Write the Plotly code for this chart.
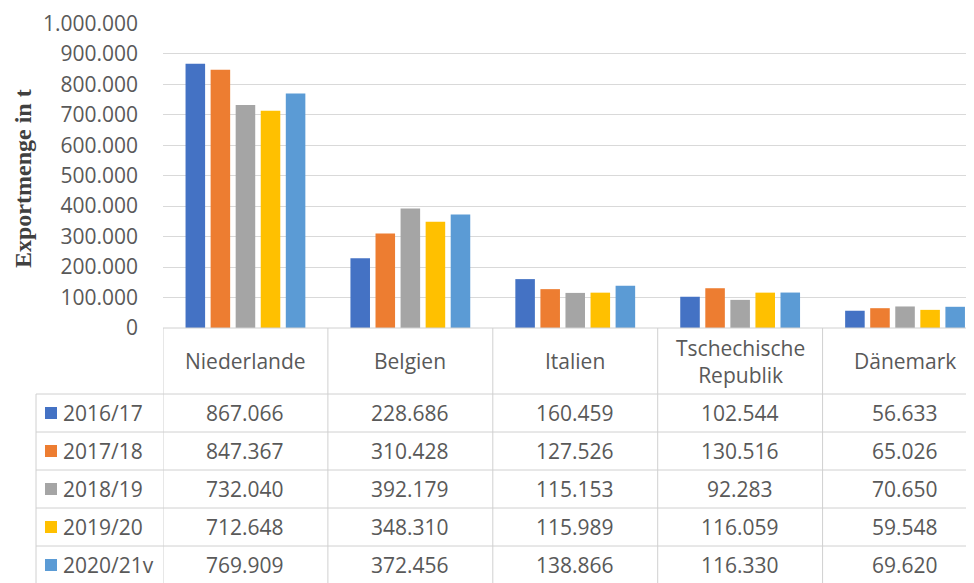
import plotly.graph_objects as go

countries = ["Niederlande", "Belgien", "Italien", "Tschechische Republik", "Dänemark"]
header_labels = ["Niederlande", "Belgien", "Italien", "Tschechische<br>Republik", "Dänemark"]
years = ["2016/17", "2017/18", "2018/19", "2019/20", "2020/21v"]
v_2016_17 = [867066, 228686, 160459, 102544, 56633]
v_2017_18 = [847367, 310428, 127526, 130516, 65026]
v_2018_19 = [732040, 392179, 115153, 92283, 70650]
v_2019_20 = [712648, 348310, 115989, 116059, 59548]
v_2020_21v = [769909, 372456, 138866, 116330, 69620]
series = [v_2016_17, v_2017_18, v_2018_19, v_2019_20, v_2020_21v]
colors = ["#4472C4", "#ED7D31", "#A5A5A5", "#FFC000", "#5B9BD5"]
y_ticks = list(range(0, 1000001, 100000))

# page has an 8px body margin; work in screen pixels and convert
OFF = 8
W, H = 974 - OFF, 583 - OFF
def px(x):
    return (x - OFF) / W
def py(y):
    return 1 - (y - OFF) / H

plot_left, plot_top, plot_bottom = 163, 23.3, 328
first_center, step = 245, 165

fig = go.Figure()
for name, vals, c in zip(years, series, colors):
    fig.add_trace(go.Bar(x=countries, y=vals, name=name, marker=dict(color=c, line=dict(width=0))))

TXT = "#595959"
FONT = "Open Sans"
GRID = "#d9d9d9"
FS = 21

fig.update_layout(
    width=W, height=H,
    margin=dict(l=0, r=0, t=0, b=0),
    paper_bgcolor="white", plot_bgcolor="white",
    barmode="group", bargap=0.24, bargroupgap=0.22,
    showlegend=False,
    separators=",.",
    font=dict(family=FONT, color=TXT),
    xaxis=dict(domain=[px(plot_left), 1], range=[-0.5, (974 - first_center) / step],
               showticklabels=False, showgrid=False, zeroline=False, showline=False,
               automargin=False, type="category"),
    yaxis=dict(domain=[py(plot_bottom), py(plot_top)], range=[0, 1000000],
               tickvals=y_ticks, tickformat=",d", showgrid=True, gridcolor=GRID, gridwidth=1,
               zeroline=False, showline=False, ticks="", ticklabelstandoff=24,
               tickfont=dict(family=FONT, size=FS, color="#595959"), automargin=False),
)

shapes = []
annotations = []
LINE = dict(color="#d0d0d0", width=1)
shapes.append(dict(type="line", xref="paper", yref="paper", x0=px(plot_left), x1=1,
                   y0=py(plot_bottom), y1=py(plot_bottom), line=LINE))
row_lines = [394, 432, 470, 508, 546]
for yl in row_lines:
    shapes.append(dict(type="line", xref="paper", yref="paper", x0=px(36), x1=1,
                       y0=py(yl), y1=py(yl), line=LINE))
shapes.append(dict(type="line", xref="paper", yref="paper", x0=px(36), x1=px(36),
                   y0=py(394), y1=0, line=LINE))
for i in range(len(countries) + 1):
    shapes.append(dict(type="line", xref="x", yref="paper", x0=i - 0.5, x1=i - 0.5,
                       y0=py(plot_bottom), y1=0, line=LINE))

for i, lab in enumerate(header_labels):
    annotations.append(dict(xref="x", yref="paper", x=i, y=py(361), text=lab, showarrow=False,
                            font=dict(family=FONT, size=FS, color=TXT), xanchor="center", yanchor="middle"))
for r, (name, vals, c) in enumerate(zip(years, series, colors)):
    yc = 413 + 38 * r
    shapes.append(dict(type="rect", xref="paper", yref="paper", x0=px(45), x1=px(57),
                       y0=py(yc + 6), y1=py(yc - 6), fillcolor=c, line=dict(width=0)))
    annotations.append(dict(xref="paper", yref="paper", x=px(61), y=py(yc), text=name, showarrow=False,
                            font=dict(family=FONT, size=FS, color=TXT), xanchor="left", yanchor="middle"))
    for i, v in enumerate(vals):
        annotations.append(dict(xref="x", yref="paper", x=i, y=py(yc),
                                text=f"{v:,}".replace(",", "."), showarrow=False,
                                font=dict(family=FONT, size=FS, color=TXT), xanchor="center", yanchor="middle"))

annotations.append(dict(xref="paper", yref="paper", x=px(23), y=py(179), text="<b>Exportmenge in t</b>",
                        textangle=-90, showarrow=False,
                        font=dict(family="Liberation Serif", size=24, color="#404040"),
                        xanchor="center", yanchor="middle"))

fig.update_layout(shapes=shapes, annotations=annotations)
fig.write_html("out.html")
